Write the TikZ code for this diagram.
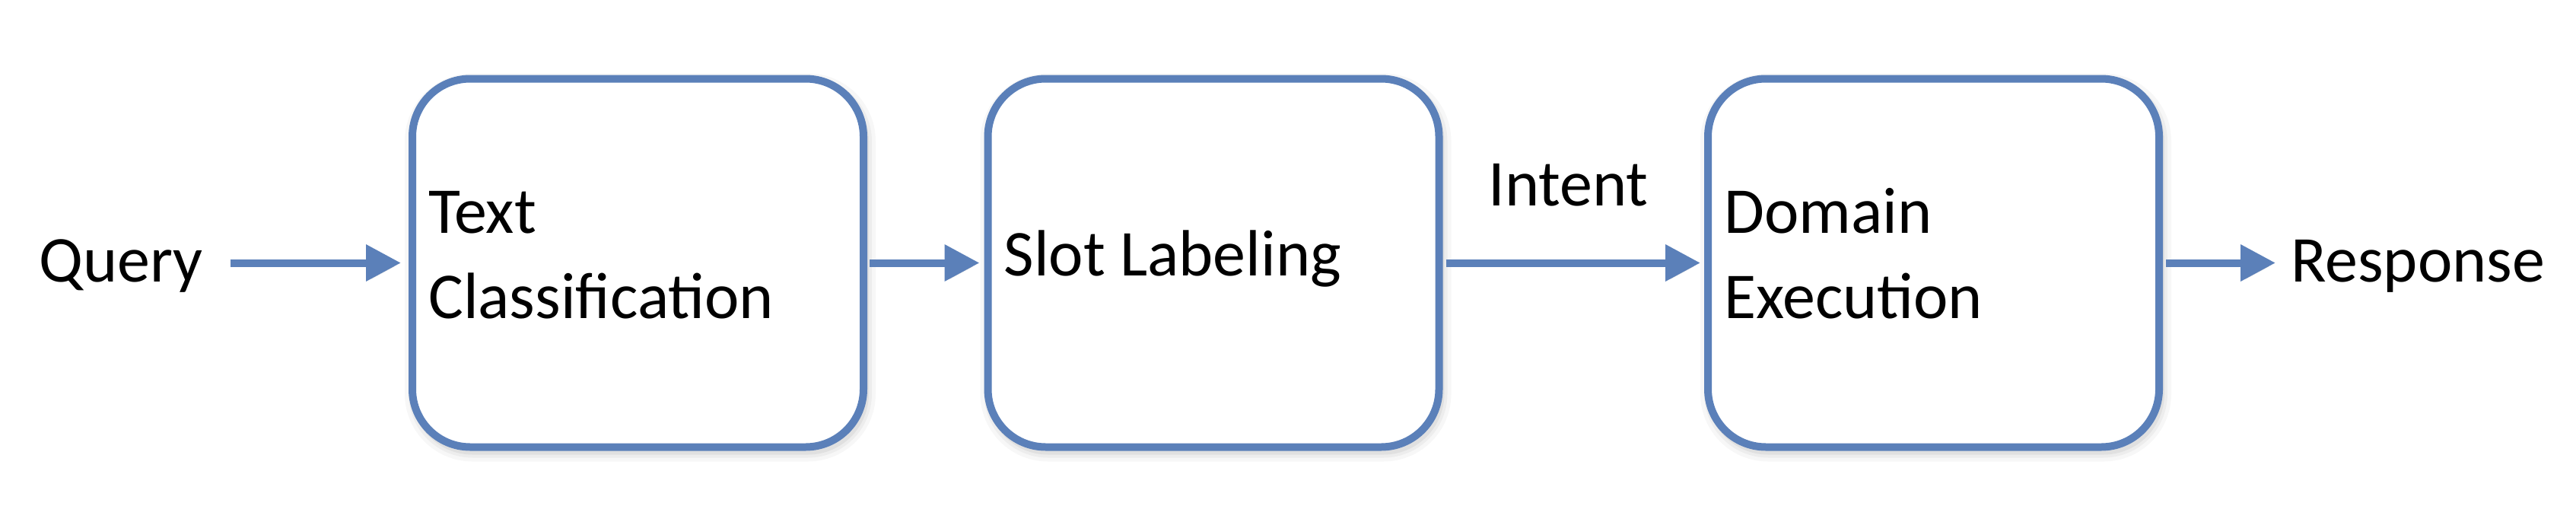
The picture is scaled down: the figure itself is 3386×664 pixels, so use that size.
\documentclass[tikz,border=0pt]{standalone}
\usepackage{fontspec}
\setmainfont{Carlito}
\usetikzlibrary{arrows.meta,calc,shadows}
\definecolor{boxblue}{RGB}{91,128,185}
\begin{document}
\begin{tikzpicture}[x=1pt,y=-1pt,
  softshadow/.style={
    general shadow={shadow xshift=3pt, shadow yshift=-6pt, draw=black, fill=none, draw opacity=0.05, line width=8pt},
    general shadow={shadow xshift=3pt, shadow yshift=-6pt, draw=black, fill=none, draw opacity=0.04, line width=16pt},
    general shadow={shadow xshift=3pt, shadow yshift=-6pt, draw=black, fill=none, draw opacity=0.03, line width=26pt}},
  box/.style={draw=boxblue, line width=10pt, rounded corners=76pt,
    minimum width=593pt, minimum height=484pt, inner sep=0pt, fill=white, softshadow},
  lbl/.style={inner sep=0pt, anchor=base west, font=\fontsize{86}{103}\selectfont},
  arr/.style={draw=boxblue, line width=10pt,
    -{Triangle[length=46pt,width=46pt]},
    general shadow={shadow xshift=2pt, shadow yshift=-5pt, opacity=0.07, draw=black, fill=none}},
]
\useasboundingbox[fill=white] (0,0) rectangle (3386,664);
% boxes
\node[box] (tc) at (838.5,345.5) {};
\node[box] (sl) at (1595,345.5) {};
\node[box] (de) at (2541.5,345.5) {};
% labels inside boxes
\node[lbl] (tc1) at ($(tc.west)+(26,-39.5)$) {Text};
\node[lbl] (tc2) at ($(tc.west)+(26,73)$) {Classification};
\node[lbl] (sl1) at ($(sl.west)+(26,16.5)$) {Slot Labeling};
\node[lbl] (de1) at ($(de.west)+(26,-39.5)$) {Domain};
\node[lbl] (de2) at ($(de.west)+(26,73)$) {Execution};
% outer labels
\node[lbl] (query) at (51,370) {Query};
\node[lbl] (resp) at (3011,370) {Response};
\node[lbl] (intent) at ($(sl.east)+(60,-75.5)$) {Intent};
% connectors
\draw[arr] ($(query.east |- tc.west)+(36,0)$) -- ($(tc.west)+(-10,0)$);
\draw[arr] ($(tc.east)+(3,0)$) -- ($(sl.west)+(-6,0)$);
\draw[arr] ($(sl.east)+(4,0)$) -- ($(de.west)+(-5,0)$);
\draw[arr] ($(de.east)+(4,0)$) -- ($(resp.west |- de.east)+(-20,0)$);
\end{tikzpicture}
\end{document}
